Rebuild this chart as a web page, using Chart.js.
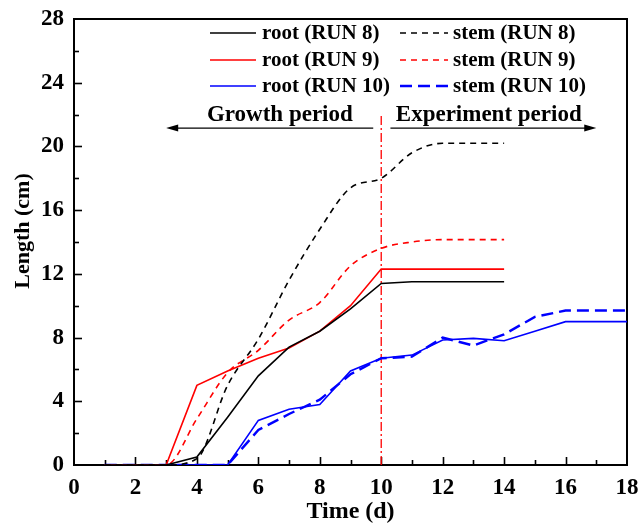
<!DOCTYPE html>
<html>
<head>
<meta charset="utf-8">
<script src="https://cdn.jsdelivr.net/npm/chart.js@4/dist/chart.umd.min.js"></script>
<style>
  html, body { margin: 0; padding: 0; background: #fff; }
  #wrap { width: 641px; height: 526px; }
</style>
</head>
<body>
<div id="wrap"><canvas id="canvas"></canvas></div>
<script>
// days (x) and lengths (cm)
var days = [1, 2, 3, 4, 5, 6, 7, 8, 9, 10, 11, 12, 13, 14, 15, 16, 17, 18];
var rootRun8  = [0, 0, 0, 0.5, 3.0, 5.6, 7.4, 8.4, 9.8, 11.4, 11.5, 11.5, 11.5, 11.5];
var stemRun8  = [0, 0, 0, 0.4, 5.0, 7.9, 11.6, 14.8, 17.4, 18.0, 19.6, 20.2, 20.2, 20.2];
var rootRun9  = [0, 0, 0, 5.0, 5.9, 6.7, 7.35, 8.4, 10.0, 12.3, 12.3, 12.3, 12.3, 12.3];
var stemRun9  = [0, 0, 0, 2.9, 5.8, 7.2, 9.1, 10.2, 12.5, 13.6, 14.0, 14.15, 14.15, 14.15];
var rootRun10 = [0, 0, 0, 0, 0, 2.8, 3.5, 3.8, 5.9, 6.7, 6.9, 7.85, 7.95, 7.8, 8.4, 9.0, 9.0, 9.0];
var stemRun10 = [0, 0, 0, 0, 0, 2.2, 3.2, 4.1, 5.7, 6.7, 6.8, 8.0, 7.5, 8.2, 9.3, 9.7, 9.7, 9.7];

var xTicks = [0, 2, 4, 6, 8, 10, 12, 14, 16, 18];
var yTicks = [0, 4, 8, 12, 16, 20, 24, 28];

// boundary between growth and experiment period
var splitDay = 10;
var splitTop = 22;

var FONT = "'Liberation Serif', 'Times New Roman', serif";

function pts(vals) {
    return vals.map(function (v, i) { return { x: days[i], y: v }; });
}

function line(label, vals, color, dash, width, smooth) {
    return {
        label: label,
        data: pts(vals),
        borderColor: color,
        borderDash: dash,
        borderWidth: width,
        pointRadius: 0,
        fill: false,
        cubicInterpolationMode: smooth ? 'monotone' : 'default',
        tension: 0
    };
}

var datasets = [
    line('root (RUN 8)', rootRun8, '#000000', [], 1.6, false),
    line('stem (RUN 8)', stemRun8, '#000000', [6, 5], 1.6, true),
    line('root (RUN 9)', rootRun9, '#ff0000', [], 1.6, false),
    line('stem (RUN 9)', stemRun9, '#ff0000', [6, 5], 1.6, true),
    line('root (RUN 10)', rootRun10, '#0000ff', [], 1.6, false),
    line('stem (RUN 10)', stemRun10, '#0000ff', [12, 6], 2.4, false),
    {
        label: 'split',
        data: [{ x: splitDay, y: 0 }, { x: splitDay, y: splitTop }],
        borderColor: '#ff0000',
        borderDash: [9, 3, 2, 3],
        borderWidth: 1.3,
        pointRadius: 0
    }
];

// frame, inward ticks, y title, arrows, period labels and legend
var decor = {
    id: 'decor',
    beforeDatasetsDraw: function (chart) {
        var c = chart.ctx, a = chart.chartArea;
        var xs = chart.scales.x, ys = chart.scales.y;
        c.save();
        c.strokeStyle = '#000';
        c.lineWidth = 1.6;
        var i, p;
        for (i = 1; i < 18; i++) {
            p = Math.round(xs.getPixelForValue(i)) + 0.5;
            c.beginPath();
            c.moveTo(p, a.bottom);
            c.lineTo(p, a.bottom - (i % 2 === 0 ? 8 : 5));
            c.stroke();
        }
        for (i = 2; i < 28; i += 2) {
            p = Math.round(ys.getPixelForValue(i)) + 0.5;
            c.beginPath();
            c.moveTo(a.left, p);
            c.lineTo(a.left + (i % 4 === 0 ? 8 : 5), p);
            c.stroke();
        }
        c.lineWidth = 2;
        c.strokeRect(a.left, a.top, a.right - a.left, a.bottom - a.top);

        c.translate(23, 231);
        c.rotate(-Math.PI / 2);
        c.fillStyle = '#000';
        c.font = 'bold 22px ' + FONT;
        c.textAlign = 'center';
        c.textBaseline = 'middle';
        c.fillText('Length (cm)', 0, 0);
        c.restore();
    },
    afterDatasetsDraw: function (chart) {
        var c = chart.ctx;
        var xs = chart.scales.x, ys = chart.scales.y;
        c.save();
        // period arrows
        var ay = ys.getPixelForValue(21.15);
        function arrow(x0, x1) {
            var p0 = xs.getPixelForValue(x0), p1 = xs.getPixelForValue(x1);
            var d = p1 > p0 ? 1 : -1;
            c.strokeStyle = '#000';
            c.lineWidth = 1.2;
            c.beginPath();
            c.moveTo(p0, ay);
            c.lineTo(p1 - d * 8, ay);
            c.stroke();
            c.fillStyle = '#000';
            c.beginPath();
            c.moveTo(p1, ay);
            c.lineTo(p1 - d * 12, ay - 3.5);
            c.lineTo(p1 - d * 12, ay + 3.5);
            c.closePath();
            c.fill();
        }
        arrow(9.74, 3.0);
        arrow(10.3, 17.0);
        c.fillStyle = '#000';
        c.font = 'bold 23px ' + FONT;
        c.textAlign = 'center';
        c.textBaseline = 'alphabetic';
        c.fillText('Growth period', xs.getPixelForValue(6.7), ay - 7);
        c.fillText('Experiment period', xs.getPixelForValue(13.5), ay - 7);

        // legend: roots in first column, stems in second
        var rows = [33, 60, 86];
        var cols = [[210, 256, 262], [400, 448, 453]];
        c.font = 'bold 21px ' + FONT;
        c.textAlign = 'left';
        c.textBaseline = 'middle';
        for (var k = 0; k < 6; k++) {
            var ds = chart.data.datasets[k];
            var col = cols[k % 2], ry = rows[Math.floor(k / 2)];
            c.strokeStyle = ds.borderColor;
            c.lineWidth = ds.borderWidth;
            c.setLineDash(ds.borderDash);
            c.beginPath();
            c.moveTo(col[0], ry);
            c.lineTo(col[1], ry);
            c.stroke();
            c.setLineDash([]);
            c.fillStyle = '#000';
            c.fillText(ds.label, col[2], ry + 1);
        }
        c.restore();
    }
};

new Chart(document.getElementById('canvas'), {
    type: 'line',
    data: { datasets: datasets },
    options: {
        responsive: true,
        maintainAspectRatio: false,
        animation: false,
        layout: { padding: { top: 19, right: 14, left: 0, bottom: 0 } },
        plugins: {
            legend: { display: false },
            tooltip: { enabled: false }
        },
        scales: {
            x: {
                type: 'linear',
                min: 0,
                max: 18,
                afterBuildTicks: function (s) { s.ticks = xTicks.map(function (v) { return { value: v }; }); },
                afterFit: function (s) { s.height = 61; s.paddingLeft = 0; s.paddingRight = 0; },
                grid: { display: false, drawTicks: false },
                border: { display: false },
                ticks: { color: '#000', padding: 9, maxRotation: 0, font: { family: FONT, size: 23, weight: 'bold' } },
                title: {
                    display: true,
                    text: 'Time (d)',
                    color: '#000',
                    padding: 0,
                    font: { family: FONT, size: 24, weight: 'bold' }
                }
            },
            y: {
                type: 'linear',
                min: 0,
                max: 28,
                afterBuildTicks: function (s) { s.ticks = yTicks.map(function (v) { return { value: v }; }); },
                afterFit: function (s) { s.width = 74; s.paddingTop = 0; s.paddingBottom = 0; },
                grid: { display: false, drawTicks: false },
                border: { display: false },
                ticks: { color: '#000', padding: 10, font: { family: FONT, size: 23, weight: 'bold' } }
            }
        }
    },
    plugins: [decor]
});
</script>
</body>
</html>
